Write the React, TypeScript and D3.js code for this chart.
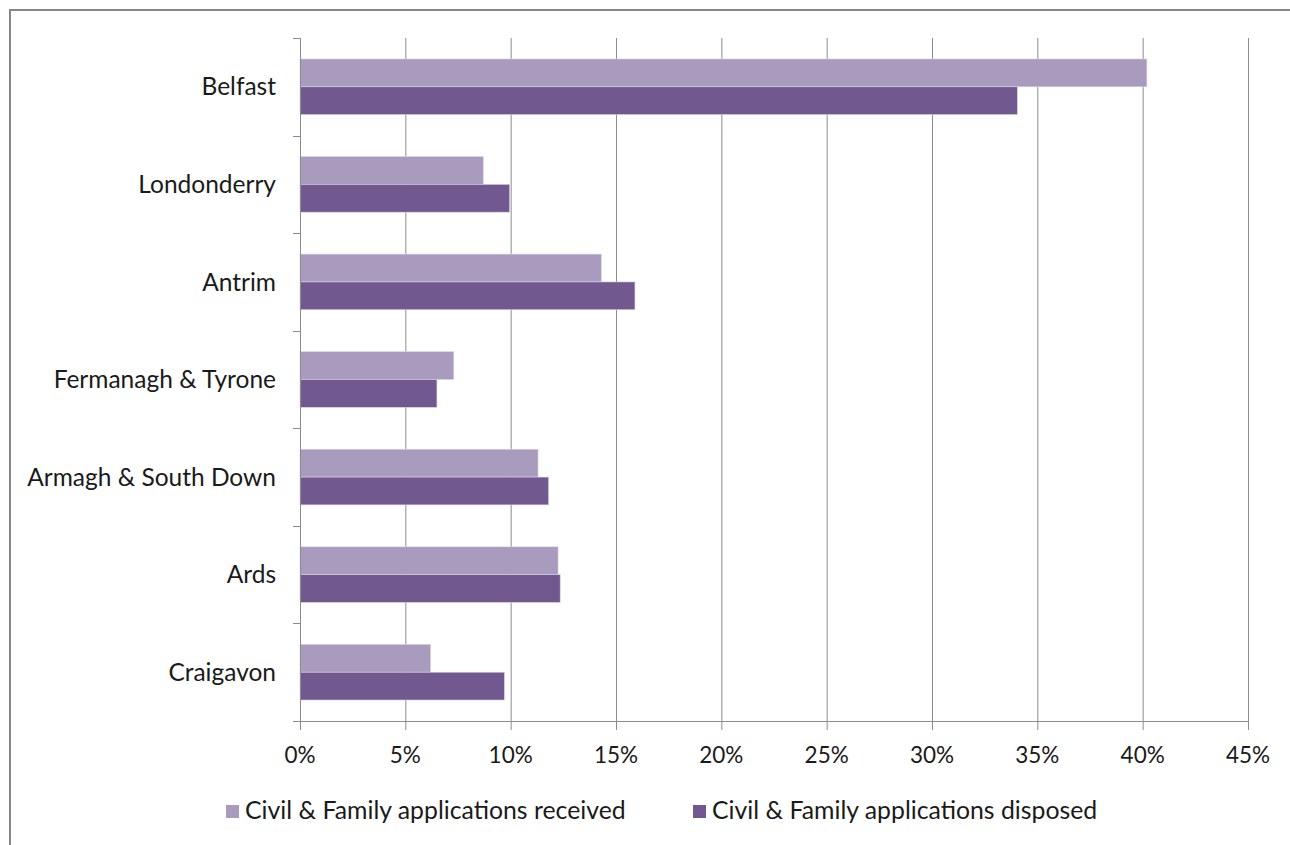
import * as d3 from 'd3';
import React, { useEffect, useRef } from 'react';

const categories = [
  "Belfast",
  "Londonderry",
  "Antrim",
  "Fermanagh & Tyrone",
  "Armagh & South Down",
  "Ards",
  "Craigavon"
];

const received = [40.2, 8.7, 14.3, 7.3, 11.3, 12.25, 6.2];
const disposed = [34.05, 9.95, 15.9, 6.5, 11.8, 12.35, 9.7];

const seriesNames = [
  "Civil & Family applications received",
  "Civil & Family applications disposed"
];
const seriesColors = ["#A99BBE", "#71598F"];

const xTicks = [0, 5, 10, 15, 20, 25, 30, 35, 40, 45];

const W = 1290;
const H = 845;

export default function App() {
  const svgRef = useRef(null);

  useEffect(() => {
    const svg = d3.select(svgRef.current);
    svg.selectAll("*").remove();

    const font = "Lato, 'Open Sans', sans-serif";
    const margin = { top: 38, left: 300, right: 42, bottom: 124 };
    const plotW = W - margin.left - margin.right;
    const plotH = H - margin.top - margin.bottom;

    svg.append("rect")
      .attr("width", W).attr("height", H).attr("fill", "white");

    // outer frame (right/bottom edges fall outside the picture)
    svg.append("rect")
      .attr("x", 10).attr("y", 10)
      .attr("width", W + 20).attr("height", H + 20)
      .attr("fill", "none")
      .attr("stroke", "#878787")
      .attr("stroke-width", 2);

    const g = svg.append("g")
      .attr("transform", `translate(${margin.left}, ${margin.top})`);

    const x = d3.scaleLinear().domain([0, 45]).range([0, plotW]);
    const y = d3.scaleBand<string>()
      .domain(categories)
      .range([0, plotH])
      .paddingInner(0.43)
      .paddingOuter(0.215);
    const sub = d3.scaleBand<number>()
      .domain([0, 1])
      .range([0, y.bandwidth()]);

    // gridlines
    g.append("g")
      .selectAll("line")
      .data(xTicks.filter(t => t > 0))
      .join("line")
      .attr("x1", d => x(d) + 0.5)
      .attr("x2", d => x(d) + 0.5)
      .attr("y1", 0)
      .attr("y2", plotH)
      .attr("stroke", "#8c8c8c")
      .attr("stroke-width", 1);

    // bars
    const rows = categories.map((c, i) => ({ c, vals: [received[i], disposed[i]] }));
    const grp = g.append("g")
      .selectAll("g")
      .data(rows)
      .join("g")
      .attr("transform", d => `translate(0, ${y(d.c)})`);
    grp.selectAll("rect")
      .data(d => d.vals.map((v, k) => ({ v, k })))
      .join("rect")
      .attr("x", 0)
      .attr("y", d => sub(d.k)!)
      .attr("width", d => x(d.v))
      .attr("height", sub.bandwidth())
      .attr("fill", d => seriesColors[d.k])
      .attr("stroke", "#d9d2e3")
      .attr("stroke-width", 0.6);

    // y axis
    const step = y.step();
    const boundaries = d3.range(categories.length + 1).map(i => i * step);
    const yAx = g.append("g");
    yAx.append("line")
      .attr("x1", 0.5).attr("x2", 0.5)
      .attr("y1", 0).attr("y2", plotH)
      .attr("stroke", "#8c8c8c");
    yAx.selectAll("line.tick")
      .data(boundaries)
      .join("line")
      .attr("class", "tick")
      .attr("x1", -7).attr("x2", 0.5)
      .attr("y1", d => Math.round(d) + 0.5)
      .attr("y2", d => Math.round(d) + 0.5)
      .attr("stroke", "#8c8c8c");
    yAx.selectAll("text")
      .data(categories)
      .join("text")
      .attr("x", -24)
      .attr("y", d => y(d)! + y.bandwidth() / 2)
      .attr("dy", "0.35em")
      .attr("text-anchor", "end")
      .attr("font-family", font)
      .attr("font-size", 24.5)
      .attr("fill", "#1a1a1a")
      .text(d => d);

    // x axis
    const xAx = g.append("g").attr("transform", `translate(0, ${plotH})`);
    xAx.append("line")
      .attr("x1", -7).attr("x2", plotW + 0.5)
      .attr("y1", 0.5).attr("y2", 0.5)
      .attr("stroke", "#8c8c8c");
    xAx.selectAll("line.tick")
      .data(xTicks)
      .join("line")
      .attr("class", "tick")
      .attr("x1", d => x(d) + 0.5).attr("x2", d => x(d) + 0.5)
      .attr("y1", 0).attr("y2", 9)
      .attr("stroke", "#8c8c8c");
    xAx.selectAll("text")
      .data(xTicks)
      .join("text")
      .attr("x", d => x(d))
      .attr("y", 42)
      .attr("text-anchor", "middle")
      .attr("font-family", font)
      .attr("font-size", 22.5)
      .attr("fill", "#1a1a1a")
      .text(d => `${d}%`);

    // legend
    const legendX = [226, 693];
    const leg = svg.append("g");
    seriesNames.forEach((name, i) => {
      leg.append("rect")
        .attr("x", legendX[i]).attr("y", 805)
        .attr("width", 13).attr("height", 13)
        .attr("fill", seriesColors[i]);
      leg.append("text")
        .attr("x", legendX[i] + 19).attr("y", 819)
        .attr("font-family", font)
        .attr("font-size", 24.8)
        .attr("fill", "#1a1a1a")
        .text(name);
    });
  }, []);

  return (
    <svg ref={svgRef} width={W} height={H}
      style={{ position: "absolute", left: 0, top: 0, display: "block" }} />
  );
}
